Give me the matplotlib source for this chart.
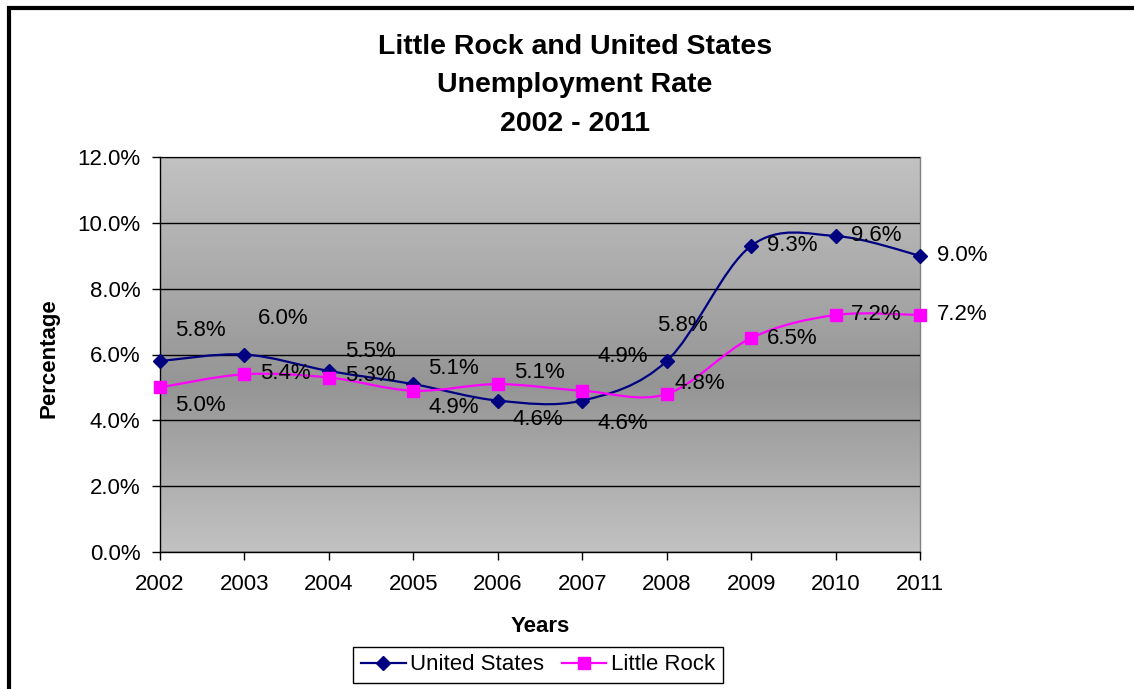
import numpy as np
import matplotlib
matplotlib.use("Agg")
import matplotlib.pyplot as plt
from matplotlib.path import Path
from matplotlib.patches import PathPatch, Rectangle
from matplotlib.lines import Line2D
from matplotlib.colors import LinearSegmentedColormap
from matplotlib.ticker import FuncFormatter, MultipleLocator

# ---- data ----
years = [2002, 2003, 2004, 2005, 2006, 2007, 2008, 2009, 2010, 2011]
us_rate = [5.8, 6.0, 5.5, 5.1, 4.6, 4.6, 5.8, 9.3, 9.6, 9.0]
lr_rate = [5.0, 5.4, 5.3, 4.9, 5.1, 4.9, 4.8, 6.5, 7.2, 7.2]
series_names = ["United States", "Little Rock"]
title_lines = ["Little Rock and United States", "Unemployment Rate", "2002 - 2011"]
x_label = "Years"
y_label = "Percentage"

# label offsets in pixels (dx, dy with dy downward)
us_offsets = [(40, -31), (39, -36), (41, -19), (40, -16), (40, 19),
              (41, 23), (16, -36), (41, 0), (41, 0), (42, 0)]
lr_offsets = [(40, 18), (41, -1), (41, -2), (40, 17), (42, -12),
              (41, -34), (33, -10), (41, 0), (41, 0), (42, 0)]

plt.rcParams['font.family'] = ['Liberation Sans', 'DejaVu Sans']

W, H = 1134, 689
fig = plt.figure(figsize=(W / 100, H / 100), dpi=100)
fig.patch.set_facecolor('white')
ax = fig.add_axes([160 / W, 1 - 552 / H, 760 / W, 395 / H])

# gradient background
cmap = LinearSegmentedColormap.from_list(
    'g', [(0.0, '#c2c2c2'), (0.42, '#959595'), (1.0, '#c2c2c2')])
grad = np.linspace(0, 1, 256).reshape(-1, 1)
ax.imshow(grad, cmap=cmap, extent=[0, 1, 0, 1], transform=ax.transAxes,
          aspect='auto', origin='lower', zorder=0)


def smooth_path(xs, ys):
    xs = np.asarray(xs, float)
    ys = np.asarray(ys, float)
    n = len(xs)
    verts = [(xs[0], ys[0])]
    codes = [Path.MOVETO]
    for i in range(n - 1):
        p0 = np.array([xs[max(i - 1, 0)], ys[max(i - 1, 0)]])
        p1 = np.array([xs[i], ys[i]])
        p2 = np.array([xs[i + 1], ys[i + 1]])
        p3 = np.array([xs[min(i + 2, n - 1)], ys[min(i + 2, n - 1)]])
        c1 = p1 + (p2 - p0) / 6.0
        c2 = p2 - (p3 - p1) / 6.0
        verts += [tuple(c1), tuple(c2), tuple(p2)]
        codes += [Path.CURVE4] * 3
    return Path(verts, codes)


us_color = '#000080'
lr_color = '#FF00FF'

for vals, col, mk, ms in [(us_rate, us_color, 'D', 7.5), (lr_rate, lr_color, 's', 8)]:
    ax.add_patch(PathPatch(smooth_path(years, vals), facecolor='none',
                           edgecolor=col, lw=1.6, zorder=3))
    ax.plot(years, vals, linestyle='none', marker=mk, color=col,
            markersize=ms, zorder=4, clip_on=False)

for vals, offs in [(us_rate, us_offsets), (lr_rate, lr_offsets)]:
    for x, v, (dx, dy) in zip(years, vals, offs):
        ax.annotate(f"{v:.1f}%", (x, v), xytext=(dx, -dy),
                    textcoords='offset pixels', ha='center', va='center',
                    fontsize=16, color='black', zorder=5,
                    annotation_clip=False)

ax.set_xlim(years[0], years[-1])
ax.set_ylim(0, 12)
ax.yaxis.set_major_locator(MultipleLocator(2))
ax.yaxis.set_major_formatter(FuncFormatter(lambda v, p: f"{v:.1f}%"))
ax.set_xticks(years)
ax.set_xticklabels([str(y) for y in years])
ax.grid(axis='y', color='black', lw=1.0, zorder=1)
ax.set_axisbelow(False)
ax.tick_params(axis='both', labelsize=16, direction='out', length=6,
               width=1.0, color='black')
ax.tick_params(axis='x', pad=10)
ax.tick_params(axis='y', pad=8)
for s in ['top', 'right']:
    ax.spines[s].set_color('#808080')
    ax.spines[s].set_linewidth(1.0)
for s in ['left', 'bottom']:
    ax.spines[s].set_color('black')
    ax.spines[s].set_linewidth(1.0)

for i, line in enumerate(title_lines):
    fig.text(575 / W, 1 - (47 + 38.5 * i) / H, line, ha='center', va='center',
             fontsize=20.5, fontweight='bold')
fig.text(540 / W, 1 - 627 / H, x_label, ha='center', va='center',
         fontsize=16, fontweight='bold')
fig.text(49 / W, 1 - 358 / H, y_label, ha='center', va='center',
         fontsize=16, fontweight='bold', rotation=90)

handles = [Line2D([], [], color=us_color, marker='D', markersize=7, lw=1.6),
           Line2D([], [], color=lr_color, marker='s', markersize=8, lw=1.6)]
leg = fig.legend(handles, series_names, loc='center',
                 bbox_to_anchor=(538 / W, 1 - 665 / H), ncol=2,
                 fontsize=16, frameon=True, fancybox=False, framealpha=1,
                 edgecolor='black', handlelength=2.0, handletextpad=0.2,
                 columnspacing=0.8, borderpad=0.35)
leg.get_frame().set_linewidth(1.0)

# outer chart border (extends beyond right/bottom edge)
fig.add_artist(Rectangle((8.7 / W, -0.2), 1.3, 1.2 - 8 / H,
                         transform=fig.transFigure, fill=False,
                         edgecolor='black', lw=3.0, clip_on=False))

fig.savefig('out.png', dpi=100)
